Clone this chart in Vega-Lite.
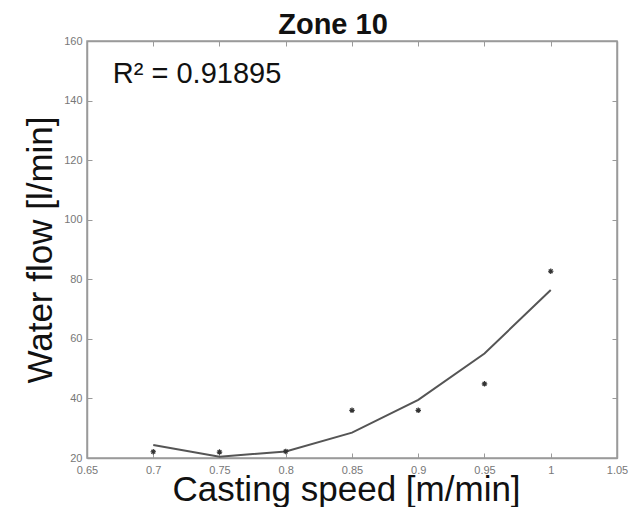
{
  "$schema": "https://vega.github.io/schema/vega-lite/v6.json",
  "width": 530,
  "height": 417,
  "autosize": {"type": "none"},
  "padding": {"left": 87, "top": 41, "right": 14, "bottom": 49},
  "background": "white",
  "config": {
    "view": {"stroke": "#9a9a9a", "strokeWidth": 1.5},
    "font": "Liberation Sans"
  },
  "title": {
    "text": "Zone 10",
    "fontSize": 29,
    "fontWeight": "bold",
    "font": "Liberation Sans",
    "color": "#111",
    "anchor": "middle",
    "frame": "group",
    "offset": -5,
    "dx": -19
  },
  "data": {
    "values": [
      {"speed": 0.7, "measured": 22.1, "fitted": 24.4},
      {"speed": 0.75, "measured": 22.0, "fitted": 20.4},
      {"speed": 0.8, "measured": 22.2, "fitted": 22.2},
      {"speed": 0.85, "measured": 36.0, "fitted": 28.5},
      {"speed": 0.9, "measured": 36.0, "fitted": 39.5},
      {"speed": 0.95, "measured": 44.9, "fitted": 55.1},
      {"speed": 1.0, "measured": 82.7, "fitted": 76.4}
    ]
  },
  "resolve": {"axis": {"x": "independent", "y": "independent"}},
  "layer": [
    {
      "mark": {"type": "line", "color": "#555555", "strokeWidth": 2},
      "encoding": {
        "x": {
          "field": "speed", "type": "quantitative",
          "scale": {"domain": [0.65, 1.05], "nice": false, "zero": false},
          "axis": {
            "orient": "bottom",
            "title": "Casting speed [m/min]",
            "values": [0.65, 0.7, 0.75, 0.8, 0.85, 0.9, 0.95, 1, 1.05],
            "format": "~g",
            "grid": false,
            "tickSize": -5,
            "tickColor": "#9a9a9a",
            "domainColor": "#9a9a9a",
            "domainWidth": 1.5,
            "labelPadding": 11,
            "labelFontSize": 11,
            "labelColor": "#777777",
            "labelFlush": false,
            "titleFontSize": 35,
            "titleFontWeight": "normal",
            "titleColor": "#111111",
            "titlePadding": -3,
            "titleX": 259
          }
        },
        "y": {
          "field": "fitted", "type": "quantitative",
          "scale": {"domain": [20, 160], "nice": false, "zero": false},
          "axis": {
            "orient": "left",
            "title": "Water flow [l/min]",
            "values": [20, 40, 60, 80, 100, 120, 140, 160],
            "grid": false,
            "tickSize": -5,
            "tickColor": "#9a9a9a",
            "domainColor": "#9a9a9a",
            "domainWidth": 1.5,
            "labelPadding": 10,
            "labelFontSize": 11,
            "labelColor": "#777777",
            "labelFlush": false,
            "titleFontSize": 35,
            "titleFontWeight": "normal",
            "titleColor": "#111111",
            "titlePadding": 5
          }
        }
      }
    },
    {
      "mark": {
        "type": "point",
        "shape": "M-1,0L1,0M0,-1L0,1M-0.7,-0.7L0.7,0.7M-0.7,0.7L0.7,-0.7",
        "filled": false,
        "stroke": "#333333",
        "strokeWidth": 1.2,
        "size": 30,
        "opacity": 1
      },
      "encoding": {
        "x": {
          "field": "speed", "type": "quantitative",
          "scale": {"domain": [0.65, 1.05], "nice": false, "zero": false},
          "axis": {
            "orient": "top", "title": null, "labels": false,
            "values": [0.65, 0.7, 0.75, 0.8, 0.85, 0.9, 0.95, 1, 1.05],
            "grid": false, "tickSize": -5, "tickColor": "#9a9a9a",
            "domainColor": "#9a9a9a", "domainWidth": 1.5
          }
        },
        "y": {
          "field": "measured", "type": "quantitative",
          "scale": {"domain": [20, 160], "nice": false, "zero": false},
          "axis": {
            "orient": "right", "title": null, "labels": false,
            "values": [20, 40, 60, 80, 100, 120, 140, 160],
            "grid": false, "tickSize": -5, "tickColor": "#9a9a9a",
            "domainColor": "#9a9a9a", "domainWidth": 1.5
          }
        }
      }
    },
    {
      "data": {"values": [{"x": 0.6695, "y": 145.9, "label": "R² = 0.91895"}]},
      "mark": {
        "type": "text",
        "align": "left",
        "baseline": "alphabetic",
        "fontSize": 29,
        "font": "Liberation Sans",
        "color": "#111111"
      },
      "encoding": {
        "x": {"field": "x", "type": "quantitative", "axis": null},
        "y": {"field": "y", "type": "quantitative", "axis": null},
        "text": {"field": "label"}
      }
    }
  ]
}
